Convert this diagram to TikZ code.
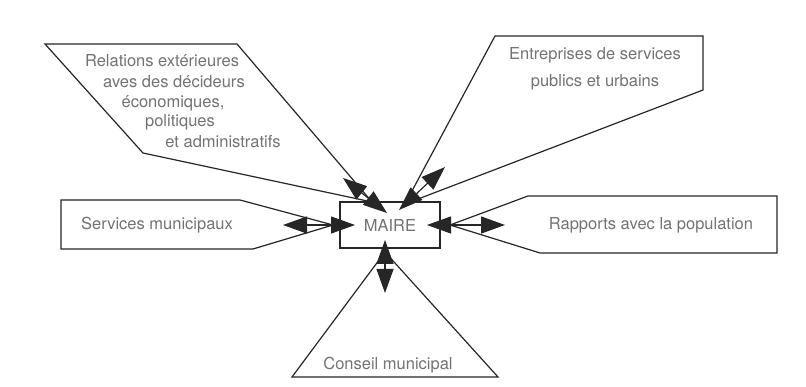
\documentclass[tikz,border=0pt]{standalone}
\usepackage{fontspec}
\setmainfont{TeX Gyre Heros}
\usetikzlibrary{arrows.meta}
\begin{document}
\begin{tikzpicture}[x=1pt,y=-1pt,
  outline/.style={draw=black!85, line width=1.2pt, line join=miter},
  txt/.style={text=black!55, font=\fontsize{16.5}{19}\selectfont, inner sep=0pt},
  link/.style={draw=black!85, line width=1.2pt,
    {Triangle[length=24pt,width=17pt]}-{Triangle[length=24pt,width=17pt]}}]
\fill[white] (0,0) rectangle (806,387);
\useasboundingbox (0,0) rectangle (806,387);

% MAIRE box
\node[outline, minimum width=100pt, minimum height=46pt, inner sep=0pt,
      text=black!55, font=\fontsize{16.5}{19}\selectfont] (maire) at (390,225) {MAIRE};

% Relations exterieures callout
\coordinate (r1) at (45,44);
\coordinate (r2) at (237,44);
\coordinate (r3) at (372,202);
\coordinate (r4) at (143,153);
\draw[outline] (r1) -- (r2) -- (r3) -- (r4) -- cycle;
\node[txt] (rel1) at (162,61) {Relations extérieures};
\node[txt] (rel2) at (174,82) {aves des décideurs};
\node[txt] (rel3) at (173,103) {économiques,};
\node[txt] (rel4) at (180,122) {politiques};
\node[txt] (rel5) at (223,142) {et administratifs};
\coordinate (relOut) at (343,178);
\coordinate (relIn) at (387,213);
\draw[link] (relOut) -- (relIn);

% Entreprises callout
\coordinate (e1) at (495,36);
\coordinate (e2) at (703,36);
\coordinate (e3) at (703,90);
\coordinate (e4) at (405,204);
\draw[outline] (e1) -- (e2) -- (e3) -- (e4) -- cycle;
\node[txt] (ent1) at (595,55) {Entreprises de services};
\node[txt] (ent2) at (595,82) {publics et urbains};
\coordinate (entOut) at (445,167);
\coordinate (entIn) at (399,210);
\draw[link] (entOut) -- (entIn);

% Services municipaux callout
\coordinate (s1) at (61,200);
\coordinate (s2) at (240,200);
\coordinate (s3) at (333,225);
\coordinate (s4) at (253,249);
\coordinate (s5) at (61,249);
\draw[outline] (s1) -- (s2) -- (s3) -- (s4) -- (s5) -- cycle;
\node[txt] (serv) at (157,225) {Services municipaux};
\coordinate (servOut) at (283,225);
\coordinate (servIn) at (355,225);
\draw[link] (servOut) -- (servIn);

% Rapports avec la population callout
\coordinate (p1) at (777,196);
\coordinate (p2) at (528,196);
\coordinate (p3) at (450,225);
\coordinate (p4) at (540,253);
\coordinate (p5) at (777,253);
\draw[outline] (p1) -- (p2) -- (p3) -- (p4) -- (p5) -- cycle;
\node[txt] (pop) at (651,225) {Rapports avec la population};
\coordinate (popOut) at (505,225);
\coordinate (popIn) at (427,225);
\draw[link] (popOut) -- (popIn);

% Conseil municipal triangle
\coordinate (c1) at (292,377);
\coordinate (c2) at (498,377);
\coordinate (c3) at (385,252);
\draw[outline] (c1) -- (c2) -- (c3) -- cycle;
\node[txt] (cons) at (388,365) {Conseil municipal};
\coordinate (consIn) at (385,240);
\coordinate (consOut) at (385,293);
\draw[link] (consOut) -- (consIn);
\end{tikzpicture}
\end{document}
